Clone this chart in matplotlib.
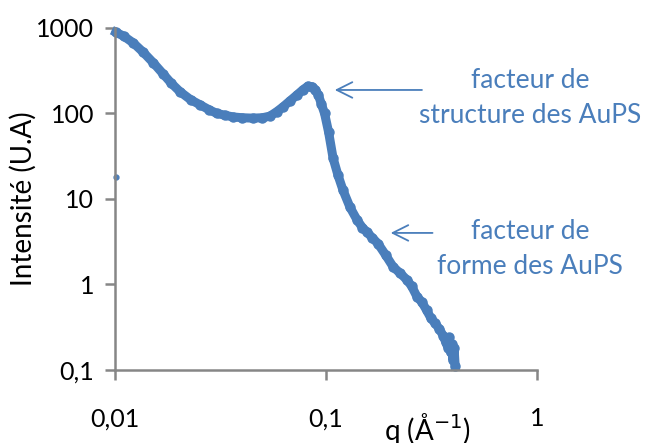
import matplotlib.pyplot as plt
from matplotlib.ticker import FixedLocator, NullLocator

# q (1/A) and intensity (U.A)
q = [0.0101, 0.0110, 0.0122, 0.0136, 0.0152, 0.0169, 0.0185, 0.0203, 0.0228, 0.0253,
     0.0280, 0.0304, 0.0333, 0.0362, 0.0400, 0.0451, 0.0500, 0.0543, 0.0585, 0.0625,
     0.0675, 0.0728, 0.0780, 0.0821, 0.0860, 0.0890, 0.0920, 0.0950, 0.0985, 0.1030,
     0.1081, 0.1140, 0.1204, 0.1300, 0.1403, 0.1490, 0.1564, 0.1660, 0.1765, 0.1920,
     0.2084, 0.2250, 0.2420, 0.2550, 0.2700, 0.2850, 0.3000, 0.3150, 0.3300, 0.3450,
     0.3600, 0.3700, 0.3800, 0.3850, 0.3900, 0.3950, 0.4000, 0.4050, 0.4100]
intensity = [890, 800, 668, 520, 390, 290, 225, 180, 145, 126,
             110, 100, 95, 91, 89, 88, 89, 93, 105, 119,
             140, 164, 190, 208, 205, 190, 165, 130, 100, 60,
             30, 19, 12.7, 8.0, 5.7, 4.6, 4.1, 3.5, 3.0, 2.2,
             1.6, 1.35, 1.13, 0.95, 0.72, 0.62, 0.50, 0.40, 0.35, 0.30,
             0.25, 0.21, 0.18, 0.24, 0.16, 0.20, 0.13, 0.18, 0.11]

# stray point near the start
q_stray = [0.0101]
i_stray = [18]

blue = '#4A7EBB'
axis_grey = '#868686'

plt.rcParams['font.family'] = ['Lato', 'DejaVu Sans']

fig = plt.figure(figsize=(6.48, 4.43), dpi=100)
ax = fig.add_axes([0.1775, 0.165, 0.651, 0.772])

ax.plot(q, intensity, '-o', color=blue, lw=6.5, ms=6.5, solid_joinstyle='round', clip_on=False)
ax.plot(q_stray, i_stray, 'o', color=blue, ms=3.5, clip_on=False)

ax.set_xscale('log')
ax.set_yscale('log')
ax.set_xlim(0.01, 1)
ax.set_ylim(0.1, 1000)

ax.xaxis.set_major_locator(FixedLocator([0.01, 0.1, 1]))
ax.yaxis.set_major_locator(FixedLocator([0.1, 1, 10, 100, 1000]))
ax.xaxis.set_minor_locator(NullLocator())
ax.yaxis.set_minor_locator(NullLocator())
ax.set_xticklabels(['0,01', '0,1', '1'])
ax.set_yticklabels(['0,1', '1', '10', '100', '1000'])

for s in ['top', 'right']:
    ax.spines[s].set_visible(False)
for s in ['left', 'bottom']:
    ax.spines[s].set_color(axis_grey)
    ax.spines[s].set_linewidth(1.8)

ax.tick_params(axis='x', length=7, width=1.8, color=axis_grey, labelsize=18, pad=20)
ax.tick_params(axis='y', length=7, width=1.8, color=axis_grey, labelsize=18, pad=8)

ax.set_ylabel('Intensité (U.A)', fontsize=20)
ax.yaxis.set_label_coords(-0.185, 0.5)
ax.set_xlabel('q (Å$^{-1}$)', fontsize=20)
ax.xaxis.set_label_coords(0.74, -0.12)

# annotations
ax.annotate('', xy=(0.1068, 188), xytext=(0.294, 188),
            arrowprops=dict(arrowstyle='->', color=blue, lw=1.3, mutation_scale=28))
ax.annotate('', xy=(0.1967, 4.0), xytext=(0.33, 4.0),
            arrowprops=dict(arrowstyle='->', color=blue, lw=1.3, mutation_scale=28))
ax.text(0.926, 150, 'facteur de\nstructure des AuPS', color=blue, fontsize=19,
        ha='center', va='center', linespacing=1.5)
ax.text(0.926, 2.6, 'facteur de\nforme des AuPS', color=blue, fontsize=19,
        ha='center', va='center', linespacing=1.5)

fig.savefig('out.png', dpi=100)
